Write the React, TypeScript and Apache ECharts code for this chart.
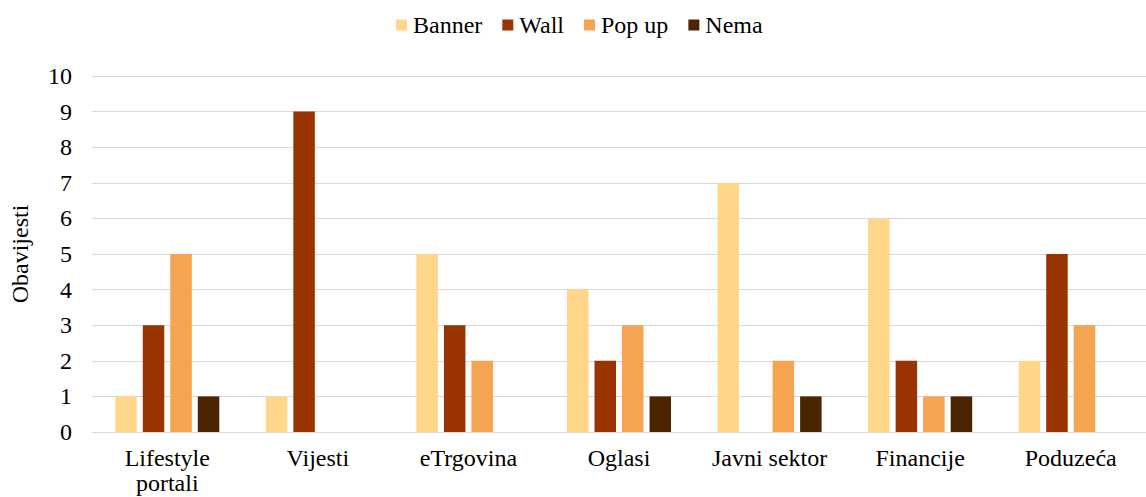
import React, { useEffect, useRef } from "react";
import * as echarts from "echarts";

const categories = ["Lifestyle\nportali", "Vijesti", "eTrgovina", "Oglasi", "Javni sektor", "Financije", "Poduzeća"];
const banner = [1, 1, 5, 4, 7, 6, 2];
const wall = [3, 9, 3, 2, 0, 2, 5];
const popup = [5, 0, 2, 3, 2, 1, 3];
const nema = [1, 0, 0, 1, 1, 1, 0];

const seriesNames = ["Banner", "Wall", "Pop up", "Nema"];
const colors = ["#FFD68A", "#993300", "#F5A552", "#4A2500"];
const FONT = "Liberation Serif";

export default function App() {
  const ref = useRef<HTMLDivElement>(null);
  useEffect(() => {
    if (!ref.current) return;
    const chart = echarts.init(ref.current, undefined, { renderer: "svg" });
    const datas = [banner, wall, popup, nema];
    chart.setOption({
      animation: false,
      textStyle: { fontFamily: FONT },
      legend: {
        top: 13,
        left: 396,
        padding: 0,
        itemWidth: 11,
        itemHeight: 11,
        itemGap: 20,
        icon: "rect",
        textStyle: { fontFamily: FONT, fontSize: 24, color: "#000", padding: [0, 0, 0, 1] },
        data: seriesNames,
      },
      grid: { left: 88, width: 1063, top: 76, bottom: 65, containLabel: false },
      xAxis: {
        type: "category",
        data: categories,
        axisTick: { show: false },
        axisLine: { lineStyle: { color: "#d9d9d9", width: 1 } },
        axisLabel: { fontFamily: FONT, fontSize: 24, color: "#000", margin: 13, lineHeight: 25, interval: 0 },
      },
      yAxis: {
        type: "value",
        min: 0,
        max: 10,
        interval: 1,
        name: "Obavijesti",
        nameLocation: "middle",
        nameGap: 60,
        nameRotate: 90,
        nameTextStyle: { fontFamily: FONT, fontSize: 24, color: "#000" },
        axisLabel: { fontFamily: FONT, fontSize: 24, color: "#000", margin: 20 },
        splitLine: { lineStyle: { color: "#d9d9d9", width: 1 } },
        axisLine: { show: false },
        axisTick: { show: false },
      },
      series: seriesNames.map((n, i) => ({
        name: n,
        type: "bar",
        data: datas[i],
        itemStyle: { color: colors[i] },
        barWidth: 21.5,
        barGap: "28%",
      })),
    });
    return () => chart.dispose();
  }, []);
  return <div ref={ref} style={{ width: 1146, height: 497, position: "absolute", left: 0, top: 0, overflow: "hidden" }} />;
}
